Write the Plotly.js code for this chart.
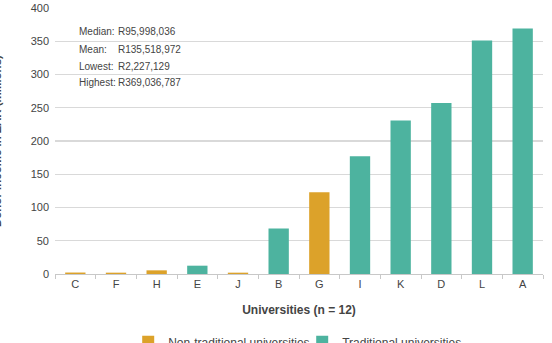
<!DOCTYPE html>
<html>
<head>
<meta charset="utf-8">
<script src="https://cdn.plot.ly/plotly-3.0.1.min.js"></script>
<style>html,body{margin:0;padding:0;background:#fff;}#chart{width:552px;height:343px;}</style>
</head>
<body>
<div id="chart"></div>
<script>
// Categories in display order
var categories = ["C", "F", "H", "E", "J", "B", "G", "I", "K", "D", "L", "A"];
// Donor income (ZAR millions) per university
var nonTraditionalUnis = ["C", "F", "H", "J", "G"];
var nonTraditionalValues = [2.2, 2.0, 5.5, 2.0, 123];
var traditionalUnis = ["E", "B", "I", "K", "D", "L", "A"];
var traditionalValues = [12.5, 68.5, 177, 231, 257, 351, 369];
var seriesNames = ["Non-traditional universities", "Traditional universities"];
var statLabels = ["Median:", "Mean:", "Lowest:", "Highest:"];
var statValues = ["R95,998,036", "R135,518,972", "R2,227,129", "R369,036,787"];
var yTicks = [0, 50, 100, 150, 200, 250, 300, 350, 400];

var orange = "#dca22a";
var teal = "#4db39f";
var txt = "#444444";
var font = "Liberation Sans, Arial, sans-serif";

var traces = [
  {type: "bar", name: seriesNames[0], x: nonTraditionalUnis, y: nonTraditionalValues,
   marker: {color: orange}, hoverinfo: "x+y"},
  {type: "bar", name: seriesNames[1], x: traditionalUnis, y: traditionalValues,
   marker: {color: teal}, hoverinfo: "x+y"}
];

var annotations = [];
var statY = [364, 338, 312.5, 287.5];
for (var i = 0; i < statLabels.length; i++) {
  annotations.push({xref: "paper", yref: "y", x: 0.046, y: statY[i], xanchor: "left", yanchor: "middle",
    text: statLabels[i], showarrow: false, font: {family: font, size: 10, color: txt}});
  annotations.push({xref: "paper", yref: "y", x: 0.126, y: statY[i], xanchor: "left", yanchor: "middle",
    text: statValues[i], showarrow: false, font: {family: font, size: 10, color: txt}});
}
annotations.push({xref: "paper", yref: "paper", x: 0, y: 0.5, xanchor: "center", yanchor: "middle",
  xshift: -58, text: "<b>Donor income in ZAR (millions)</b>", textangle: -90, showarrow: false,
  font: {family: font, size: 11.5, color: txt}});

var layout = {
  width: 552, height: 343,
  margin: {l: 55, r: 9, t: 8, b: 69, autoexpand: false},
  paper_bgcolor: "#fff", plot_bgcolor: "#fff",
  barmode: "overlay", bargap: 0.5,
  font: {family: font, size: 11, color: txt},
  showlegend: true,
  legend: {orientation: "h", x: 0.15, xanchor: "left", y: -0.255, yanchor: "middle",
           font: {family: font, size: 12, color: txt}, itemwidth: 30, entrywidth: 129, traceorder: "normal"},
  xaxis: {type: "category", categoryorder: "array", categoryarray: categories,
          showline: true, linecolor: "#c8c8c8", linewidth: 1,
          ticks: "outside", tickson: "boundaries", ticklen: 4, tickcolor: "#c8c8c8",
          showgrid: false, tickfont: {family: font, size: 11, color: txt},
          title: {text: "<b>Universities (n = 12)</b>", font: {family: font, size: 12, color: txt}, standoff: 16}},
  yaxis: {range: [0, 400], tickvals: yTicks, showgrid: true, gridcolor: "#d9d9d9", gridwidth: 1.2,
          zeroline: false, showline: false, ticks: "", ticklabelstandoff: 5,
          tickfont: {family: font, size: 11, color: txt}},
  shapes: [{type: "rect", layer: "between", xref: "paper", yref: "y", x0: 0.025, x1: 0.3, y0: 268, y1: 390,
            fillcolor: "#fff", line: {width: 0}}],
  annotations: annotations
};

Plotly.newPlot("chart", traces, layout, {displayModeBar: false, staticPlot: true});
</script>
</body>
</html>
